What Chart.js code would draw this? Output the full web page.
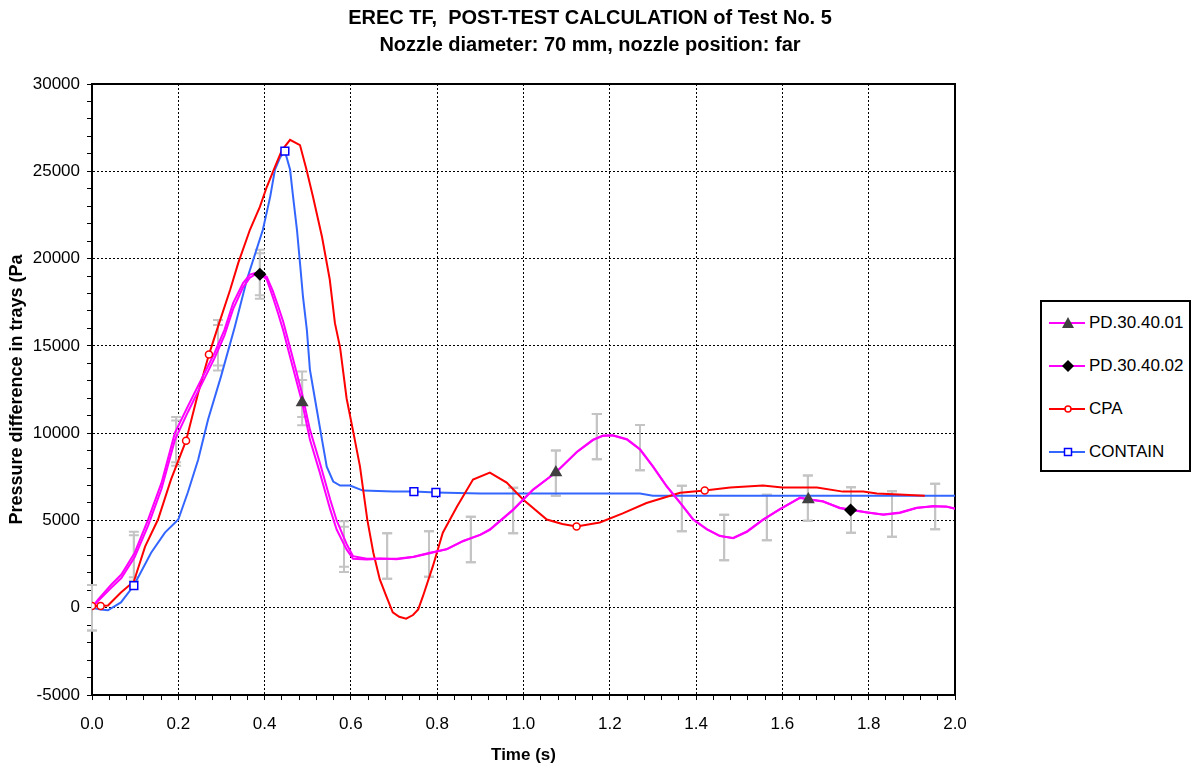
<!DOCTYPE html>
<html lang="en">
<head>
<meta charset="UTF-8">
<title>EREC TF post-test calculation, Test No. 5</title>
<script src="https://cdn.jsdelivr.net/npm/chart.js"></script>
<style>
    body { margin: 0; background: #fff; overflow: hidden; }
    #wrap { position: relative; width: 1193px; height: 767px; }
    #legend {
        position: absolute; left: 1040px; top: 300px; width: 151px; height: 172px;
        box-sizing: border-box; border: 2px solid #000; background: #fff;
        font-family: 'Liberation Sans', Arial, sans-serif; font-size: 17px; color: #000;
    }
    #legend .item { position: absolute; left: 7px; height: 20px; display: flex; align-items: center; white-space: nowrap; }
    #legend svg { margin-right: 4px; }
</style>
</head>
<body>
<div id="wrap">
    <canvas id="chart"></canvas>
    <div id="legend">
        <div class="item" style="top:11px">
            <svg width="36" height="14"><line x1="0" y1="7" x2="36" y2="7" stroke="#ff00ff" stroke-width="2"/><polygon points="19,1 25,12 13,12" fill="#404040"/></svg>PD.30.40.01
        </div>
        <div class="item" style="top:54px">
            <svg width="36" height="14"><line x1="0" y1="7" x2="36" y2="7" stroke="#ff00ff" stroke-width="2"/><polygon points="19,1 25,7 19,13 13,7" fill="#000"/></svg>PD.30.40.02
        </div>
        <div class="item" style="top:97px">
            <svg width="36" height="14"><line x1="0" y1="7" x2="36" y2="7" stroke="#ff0000" stroke-width="2"/><circle cx="19" cy="7" r="3" fill="#fff" stroke="#ff0000" stroke-width="1.5"/></svg>CPA
        </div>
        <div class="item" style="top:140px">
            <svg width="36" height="14"><line x1="0" y1="7" x2="36" y2="7" stroke="#3366ff" stroke-width="2"/><rect x="15.5" y="3.5" width="7" height="7" fill="#fff" stroke="#0000ff" stroke-width="1.5"/></svg>CONTAIN
        </div>
    </div>
</div>
<script>
    // CPA calculation (s, Pa)
    const cpaT = [0, 0.02, 0.037, 0.067, 0.097, 0.123, 0.153, 0.183, 0.218, 0.246, 0.271, 0.292, 0.32, 0.339, 0.366,
        0.389, 0.405, 0.424, 0.44, 0.459, 0.482, 0.497, 0.512, 0.533, 0.551, 0.563, 0.575, 0.59, 0.606, 0.621, 0.638,
        0.652, 0.667, 0.682, 0.697, 0.712, 0.728, 0.744, 0.756, 0.767, 0.79, 0.813, 0.846, 0.883, 0.922, 0.961, 0.999,
        1.054, 1.09, 1.123, 1.177, 1.23, 1.285, 1.363, 1.42, 1.479, 1.555, 1.6, 1.68, 1.74, 1.787, 1.819, 1.87, 1.93];
    const cpaP = [100, 100, 130, 870, 1500, 3500, 5050, 7340, 9570, 12300, 14500, 16100, 18200, 19750, 21650,
        22960, 24100, 25250, 26200, 26800, 26500, 25100, 23550, 21250, 18800, 16300, 14900, 12000, 10000, 8100, 5050,
        3150, 1620, 660, -270, -520, -630, -420, -100, 660, 2380, 4300, 5800, 7340, 7740, 7170, 6200,
        5050, 4800, 4650, 4880, 5400, 6000, 6580, 6710, 6880, 7000, 6880, 6880, 6650, 6650, 6540, 6480, 6420];
    const cpaMarkT = [0, 0.02, 0.218, 0.271, 1.123, 1.42];
    const cpaMarkP = [100, 100, 9570, 14500, 4650, 6710];

    // CONTAIN calculation
    const containT = [0, 0.02, 0.037, 0.067, 0.097, 0.137, 0.169, 0.2, 0.222, 0.246, 0.269, 0.299, 0.331, 0.359,
        0.396, 0.413, 0.424, 0.436, 0.447, 0.459, 0.466, 0.475, 0.482, 0.489, 0.498, 0.505, 0.521, 0.533, 0.544,
        0.559, 0.575, 0.598, 0.628, 0.698, 0.746, 0.797, 0.9, 1.27, 1.3, 2.0];
    const containP = [0, -100, -150, 300, 1270, 3150, 4300, 5050, 6600, 8480, 10780, 13250, 16100, 18800,
        21650, 23550, 25100, 25800, 26150, 25100, 23550, 21650, 19750, 17800, 15900, 13640, 11340, 9630, 8080,
        7230, 7000, 7000, 6710, 6650, 6650, 6600, 6540, 6540, 6420, 6420];
    const containMarkT = [0.097, 0.447, 0.746, 0.797];
    const containMarkP = [1270, 26150, 6650, 6600];

    // measured pressure differences
    const pdT = [0, 0.014, 0.045, 0.068, 0.099, 0.13, 0.161, 0.192, 0.222, 0.253, 0.284, 0.307, 0.327, 0.35, 0.366,
        0.382, 0.389, 0.405, 0.419, 0.431, 0.443, 0.459, 0.487, 0.505, 0.528, 0.552, 0.567, 0.59, 0.605, 0.637, 0.667,
        0.706, 0.745, 0.783, 0.822, 0.86, 0.9, 0.922, 0.976, 1.022, 1.075, 1.124, 1.161, 1.184, 1.207, 1.24, 1.27, 1.3,
        1.332, 1.363, 1.393, 1.425, 1.455, 1.486, 1.518, 1.555, 1.594, 1.641, 1.66, 1.694, 1.733, 1.758, 1.795, 1.834,
        1.872, 1.911, 1.949, 1.98, 2.0];
    const pd1P = [0, 470, 1330, 1900, 3150, 5050, 7150, 10010, 11530, 13060, 14590, 15920, 17450, 18600, 19080,
        19200, 19150, 18800, 17800, 16880, 15900, 14380, 11750, 9630, 7740, 5630, 4480, 3340, 2800, 2760, 2800,
        2800, 2920, 3150, 3340, 3810, 4190, 4480, 5630, 6770, 7740, 8940, 9630, 9860, 9860, 9630, 9060, 8080,
        6940, 6000, 5050, 4480, 4100, 4000, 4370, 5050, 5630, 6310, 6200, 6080, 5730, 5620, 5450, 5340,
        5450, 5730, 5800, 5800, 5680];
    const pd2P = [0, 380, 1150, 1700, 2900, 4700, 6800, 9600, 11200, 12750, 14300, 15600, 17100, 18350, 18900,
        19150, 19100, 18950, 18150, 17300, 16400, 14900, 12250, 10200, 8300, 6200, 5000, 3650, 2950, 2800, 2820,
        2780, 2900, 3120, 3360, 3830, 4170, 4460, 5600, 6750, 7760, 8920, 9600, 9840, 9880, 9650, 9080, 8100,
        6960, 6020, 5070, 4500, 4120, 3980, 4350, 5030, 5650, 6290, 6220, 6100, 5700, 5600, 5470, 5320,
        5430, 5710, 5820, 5790, 5660];
    const pd1MarkT = [0.487, 1.075, 1.66];
    const pd1MarkP = [11750, 7740, 6200];
    const pd2MarkT = [0.389, 1.758];
    const pd2MarkP = [19100, 5600];

    // measurement uncertainty bars
    const barT = [0, 0.097, 0.195, 0.292, 0.389, 0.487, 0.584, 0.684, 0.781, 0.878, 0.976, 1.075, 1.17, 1.27,
        1.367, 1.465, 1.564, 1.659, 1.759, 1.854, 1.954];
    const pd1Bar = [0, 3050, 9630, 15180, 19200, 11750, 3340, 2960, 3080, 3910, 5570, 7710, 9800, 9170,
        5680, 4020, 5170, 6280, 5600, 5370, 5800];
    const pd2Bar = [0, 2850, 9430, 14890, 19000, 12230, 3650, 2960, 3080, 3910, 5570, 7710, 9800, 9170,
        5680, 4020, 5170, 6280, 5600, 5370, 5800];
    const barHalf = 1300;

    const xy = (ts, ps) => ts.map((t, i) => ({ x: t, y: ps[i] }));
    const FONT = "'Liberation Sans', Arial, sans-serif";

    const errorBars = {
        id: 'errorBars',
        beforeDatasetsDraw(chart) {
            const { ctx, scales: { x, y } } = chart;
            ctx.save();
            ctx.strokeStyle = '#c4c4c4';
            ctx.lineWidth = 2;
            [pd1Bar, pd2Bar].forEach(centres => {
                barT.forEach((t, i) => {
                    const px = x.getPixelForValue(t);
                    const top = y.getPixelForValue(centres[i] + barHalf);
                    const bot = y.getPixelForValue(centres[i] - barHalf);
                    ctx.beginPath();
                    ctx.moveTo(px, top); ctx.lineTo(px, bot);
                    ctx.moveTo(px - 5, top); ctx.lineTo(px + 5, top);
                    ctx.moveTo(px - 5, bot); ctx.lineTo(px + 5, bot);
                    ctx.stroke();
                });
            });
            ctx.restore();
        }
    };

    // solid frame on top and right of the plot area
    const frame = {
        id: 'frame',
        beforeDatasetsDraw(chart) {
            const { ctx, chartArea: a } = chart;
            ctx.save();
            ctx.strokeStyle = '#000';
            ctx.lineWidth = 2;
            ctx.beginPath();
            ctx.moveTo(a.left, a.top); ctx.lineTo(a.right, a.top); ctx.lineTo(a.right, a.bottom);
            ctx.stroke();
            ctx.restore();
        }
    };

    const line = (data, color) => ({
        data, borderColor: color, borderWidth: 2, pointRadius: 0, showLine: true, fill: false
    });
    const marks = (data, style, radius, border, bg) => ({
        data, showLine: false, pointStyle: style, pointRadius: radius, borderColor: border,
        backgroundColor: bg, pointBorderWidth: 1.5
    });

    new Chart(document.getElementById('chart'), {
        type: 'scatter',
        data: {
            datasets: [
                marks(xy(pd1MarkT, pd1MarkP), 'triangle', 6, '#404040', '#404040'),
                marks(xy(pd2MarkT, pd2MarkP), 'rectRot', 5.5, '#000', '#000'),
                marks(xy(cpaMarkT, cpaMarkP), 'circle', 3.5, '#ff0000', '#fff'),
                marks(xy(containMarkT, containMarkP), 'rect', 5.5, '#0000ff', '#fff'),
                line(xy(pdT, pd1P), '#ff00ff'),
                line(xy(pdT, pd2P), '#ff00ff'),
                line(xy(cpaT, cpaP), '#ff0000'),
                line(xy(containT, containP), '#3366ff')
            ]
        },
        options: {
            responsive: true,
            maintainAspectRatio: false,
            animation: false,
            layout: { padding: { left: 0, right: 13, top: 0, bottom: 0 } },
            plugins: {
                legend: { display: false },
                tooltip: { enabled: false },
                title: {
                    display: true,
                    text: ['EREC TF,  POST-TEST CALCULATION of Test No. 5', 'Nozzle diameter: 70 mm, nozzle position: far'],
                    color: '#000',
                    font: { family: FONT, size: 20, weight: 'bold', lineHeight: 1.35 },
                    padding: { top: 5, bottom: 25 }
                }
            },
            scales: {
                x: {
                    type: 'linear', min: 0, max: 2,
                    afterFit: s => { s.height = 72; },
                    ticks: {
                        stepSize: 0.04, autoSkip: false, maxRotation: 0, padding: 14, color: '#000',
                        font: { family: FONT, size: 17 },
                        callback: v => { const k = Math.round(v * 100); return k % 20 === 0 ? (k / 100).toFixed(1) : ''; }
                    },
                    grid: {
                        color: c => (Math.round(c.tick.value * 100) % 20 === 0 ? '#000' : 'rgba(0,0,0,0)'),
                        tickColor: '#000', tickLength: 5, lineWidth: 1
                    },
                    border: { color: '#000', width: 2, dash: [2, 2] },
                    title: {
                        display: true, text: 'Time (s)', color: '#000',
                        font: { family: FONT, size: 17, weight: 'bold' },
                        padding: { top: 0, bottom: 1 }
                    }
                },
                y: {
                    min: -5000, max: 30000,
                    afterFit: s => { s.width = 92; },
                    ticks: {
                        stepSize: 1000, autoSkip: false, padding: 7, color: '#000',
                        font: { family: FONT, size: 17 },
                        callback: v => (v % 5000 === 0 ? String(v) : '')
                    },
                    grid: {
                        color: c => (c.tick.value % 5000 === 0 ? '#000' : 'rgba(0,0,0,0)'),
                        tickColor: '#000', tickLength: 5, lineWidth: 1
                    },
                    border: { color: '#000', width: 2, dash: [2, 2] },
                    title: {
                        display: true, text: 'Pressure difference in trays (Pa', color: '#000',
                        font: { family: FONT, size: 18, weight: 'bold' },
                        padding: { top: 6, bottom: 0 }
                    }
                },
                // empty right-hand column that leaves room for the legend box
                side: {
                    position: 'right',
                    afterFit: s => { s.width = 225; },
                    grid: { display: false },
                    ticks: { display: false },
                    border: { display: false }
                }
            }
        },
        plugins: [errorBars, frame]
    });
</script>
</body>
</html>
